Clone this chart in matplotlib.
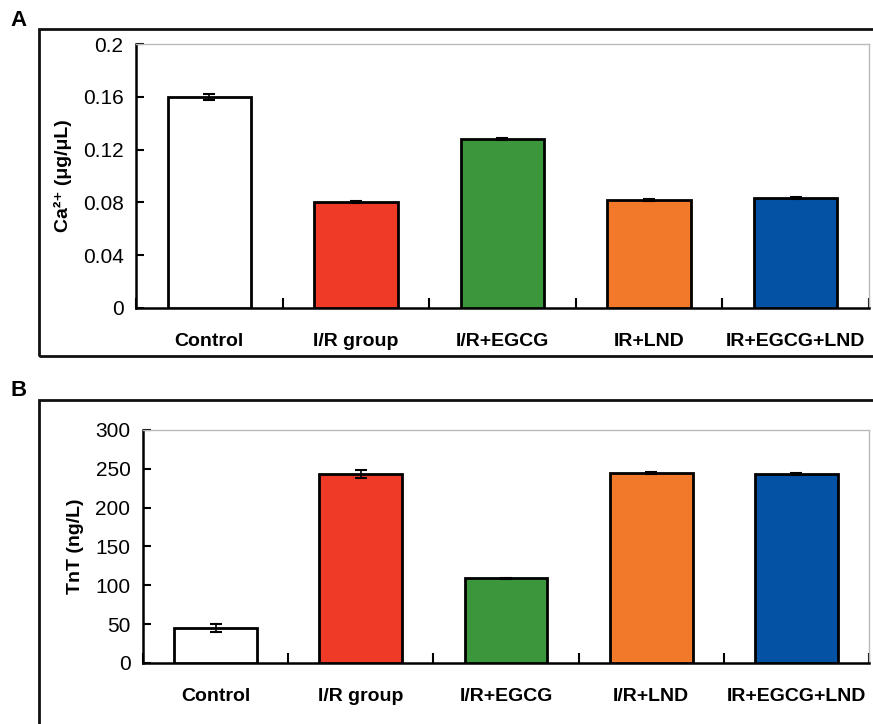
import matplotlib.pyplot as plt
import numpy as np
from matplotlib.patches import Rectangle

plt.rcParams['font.family'] = ['Liberation Sans', 'DejaVu Sans']

# --- Data ---
groups_a = ['Control', 'I/R group', 'I/R+EGCG', 'IR+LND', 'IR+EGCG+LND']
groups_b = ['Control', 'I/R group', 'I/R+EGCG', 'I/R+LND', 'IR+EGCG+LND']
colors = ['#FFFFFF', '#EE3A26', '#3C963C', '#F2782A', '#0452A4']

ca_mean = [0.160, 0.080, 0.128, 0.082, 0.083]
ca_err = [0.0022, 0.0008, 0.0006, 0.0008, 0.0008]

tnt_mean = [45, 243, 109, 245, 243]
tnt_err = [5, 5, 1, 1.5, 1.5]

fig = plt.figure(figsize=(8.73, 7.24), dpi=100)


def panel(rect, labels, mean, err, ylim, yticks, ytick_labels, ylabel):
    ax = fig.add_axes(rect)
    x = np.arange(len(labels))
    ax.bar(x, mean, width=0.57, color=colors, edgecolor='black', linewidth=2,
           yerr=err, capsize=4, error_kw=dict(elinewidth=1.2, capthick=1.5, ecolor='black'),
           zorder=3)
    ax.set_xlim(-0.5, len(labels) - 0.5)
    ax.set_ylim(*ylim)
    ax.set_yticks(yticks)
    ax.set_yticklabels(ytick_labels, fontsize=15)
    ax.set_xticks(x)
    ax.set_xticklabels(labels, fontsize=14, fontweight='bold')
    ax.tick_params(axis='x', which='major', length=0, pad=18)
    ax.set_xticks(np.arange(-0.5, len(labels)), minor=True)
    ax.tick_params(axis='x', which='minor', direction='in', length=7, width=1.5)
    ax.tick_params(axis='y', direction='in', length=6, width=1.5, pad=9)
    for s in ['left', 'bottom']:
        ax.spines[s].set_linewidth(1.8)
        ax.spines[s].set_color('black')
    for s in ['top', 'right']:
        ax.spines[s].set_linewidth(1.0)
        ax.spines[s].set_color('#BBBBBB')
    ax.set_ylabel(ylabel, fontsize=14, fontweight='bold', labelpad=8)
    return ax


panel([0.1558, 0.5746, 0.8396, 0.3646], groups_a, ca_mean, ca_err,
      (0, 0.2), [0, 0.04, 0.08, 0.12, 0.16, 0.2],
      ['0', '0.04', '0.08', '0.12', '0.16', '0.2'],
      'Ca²⁺ (μg/μL)')

panel([0.1638, 0.0843, 0.8316, 0.3218], groups_b, tnt_mean, tnt_err,
      (0, 300), [0, 50, 100, 150, 200, 250, 300],
      ['0', '50', '100', '150', '200', '250', '300'],
      'TnT (ng/L)')

# panel frames
W, H = 873, 724
fig.add_artist(Rectangle((39 / W, 1 - 356 / H), 1.0, (356 - 29) / H,
                         transform=fig.transFigure, fill=False, lw=2, ec='#111111'))
fig.add_artist(Rectangle((39 / W, -0.1), 1.0, 0.1 + (1 - 400 / H),
                         transform=fig.transFigure, fill=False, lw=2, ec='#111111'))

fig.text(10 / W, 1 - 21 / H, 'A', fontsize=16, fontweight='bold', va='center')
fig.text(10 / W, 1 - 391 / H, 'B', fontsize=16, fontweight='bold', va='center')

plt.savefig('out.png', dpi=100)
